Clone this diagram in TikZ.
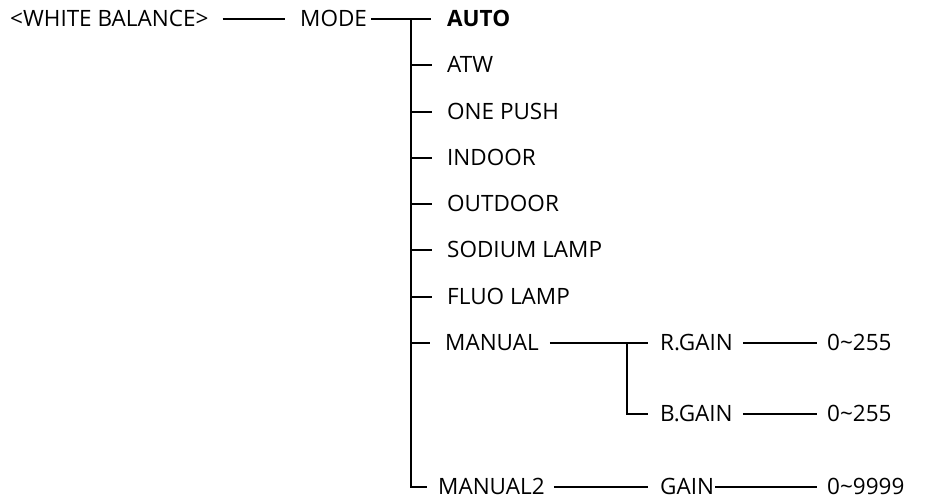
\documentclass[tikz,border=0pt]{standalone}
\usepackage{fontspec}
\setmainfont{Open Sans}
\begin{document}
\begin{tikzpicture}[x=1pt,y=-1pt,
  lbl/.style={anchor=west,inner sep=0pt,text height=15.5pt,text depth=0pt,font=\fontsize{22.5}{26}\selectfont},
  ln/.style={line width=2pt}]
\useasboundingbox (0,0) rectangle (948,499);
\node[lbl] (wb) at (10,19) {<WHITE BALANCE>};
\node[lbl] (mode) at (300,19) {MODE};
\node[lbl,font=\fontsize{22.5}{26}\selectfont\bfseries] (auto) at (447,19) {AUTO};
\node[lbl] (atw) at (447,65) {ATW};
\node[lbl] (onepush) at (447,112) {ONE PUSH};
\node[lbl] (indoor) at (447,158) {INDOOR};
\node[lbl] (outdoor) at (447,204) {OUTDOOR};
\node[lbl] (sodium) at (447,250) {SODIUM LAMP};
\node[lbl] (fluo) at (447,297) {FLUO LAMP};
\node[lbl] (manual) at (445,343) {MANUAL};
\node[lbl] (manual2) at (438,487) {MANUAL2};
\node[lbl] (rgain) at (660,343) {R.GAIN};
\node[lbl] (bgain) at (660,414) {B.GAIN};
\node[lbl] (gain) at (660,487) {GAIN};
\node[lbl] (r0) at (827,343) {0\char"7E 255};
\node[lbl] (b0) at (827,414) {0\char"7E 255};
\node[lbl] (g0) at (827,487) {0\char"7E 9999};
\coordinate (tt) at (411,19);
\coordinate (mj) at (627,343);
\draw[ln] ([xshift=14pt]wb.east) -- ([xshift=-15pt]mode.west);
\draw[ln] ([xshift=4pt]mode.east) -- ([xshift=-16pt]auto.west);
\draw[ln] (tt) -- (tt |- manual2.west) -- ([xshift=-11pt]manual2.west);
\foreach \n in {atw,onepush,indoor,outdoor,sodium,fluo,manual}
  \draw[ln] (tt |- \n.west) -- ([xshift=-15pt]\n.west);
\draw[ln] ([xshift=11pt]manual.east) -- ([xshift=-12pt]rgain.west);
\draw[ln] (mj) -- (mj |- bgain.west) -- ([xshift=-12pt]bgain.west);
\draw[ln] ([xshift=10pt]rgain.east) -- ([xshift=-10pt]r0.west);
\draw[ln] ([xshift=10pt]bgain.east) -- ([xshift=-10pt]b0.west);
\draw[ln] ([xshift=9pt]manual2.east) -- ([xshift=-12pt]gain.west);
\draw[ln] ([xshift=1pt]gain.east) -- ([xshift=-10pt]g0.west);
\end{tikzpicture}
\end{document}
